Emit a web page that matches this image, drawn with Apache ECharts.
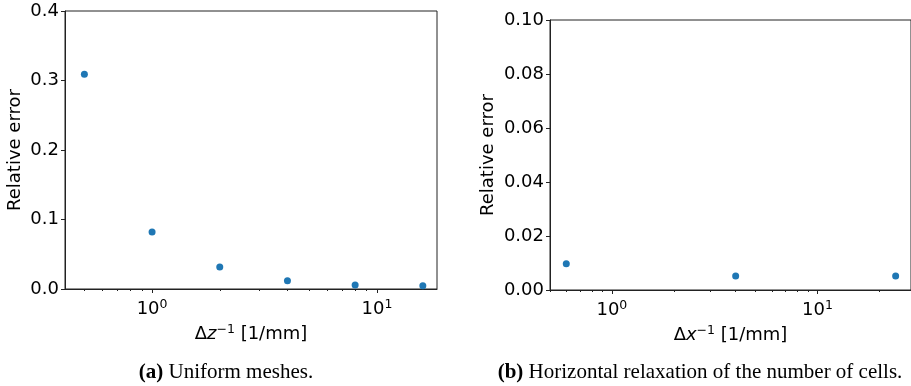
<!DOCTYPE html>
<html><head><meta charset="utf-8">
<script src="https://cdn.jsdelivr.net/npm/echarts@6/dist/echarts.min.js"></script>
<style>html,body{margin:0;padding:0;background:#fff}#c{width:911px;height:386px}</style>
</head><body><div id="c"></div>
<script>
// Panel (a): uniform meshes
const aX = [0.5, 1, 2, 4, 8, 16];
const aY = [0.309, 0.082, 0.0317, 0.012, 0.0058, 0.0045];
const aYTicks = [0, 0.1, 0.2, 0.3, 0.4];
// Panel (b): horizontal relaxation
const bX = [0.6, 4, 24];
const bY = [0.0097, 0.0052, 0.0052];
const bYTicks = [0, 0.02, 0.04, 0.06, 0.08, 0.1];
const majorX = [1, 10];
const minorX = [0.2,0.3,0.4,0.5,0.6,0.7,0.8,0.9,2,3,4,5,6,7,8,9,20,30,40,50,60,70,80,90];
const captionA = 'Uniform meshes.';
const captionB = 'Horizontal relaxation of the number of cells.';

const F = 'DejaVu Sans';
const FS = 18;
const axisColor = '#222';

function supLabel(v){ const e = Math.round(Math.log10(v)); return '{b|10}{s|' + e + '}'; }
const richTick = {b:{fontFamily:F,fontSize:FS,color:'#000'}, s:{fontFamily:F,fontSize:12.5,color:'#000',padding:[0,0,9,0]}};

function xAxes(gi, min, max, nameRich){
  return [
    {type:'log', gridIndex:gi, position:'bottom', min:min, max:max, logBase:10,
     axisLine:{show:true,lineStyle:{color:axisColor,width:1}},
     axisTick:{show:true,customValues:majorX,length:4,lineStyle:{color:axisColor}},
     axisLabel:{customValues:majorX,formatter:supLabel,rich:richTick,margin:9},
     splitLine:{show:false}, minorTick:{show:false},
     name:nameRich, nameLocation:'middle', nameGap:34,
     nameTextStyle:{fontFamily:F,fontSize:FS,color:'#000',rich:{
        t:{fontFamily:F,fontSize:FS,color:'#000'},
        i:{fontFamily:F,fontSize:FS,fontStyle:'italic',color:'#000'},
        s:{fontFamily:F,fontSize:12.5,color:'#000',padding:[0,0,9,0]}}}},
    {type:'log', gridIndex:gi, position:'bottom', min:min, max:max, logBase:10,
     axisLine:{show:false},
     axisTick:{show:true,customValues:minorX,length:2,lineStyle:{color:axisColor}},
     axisLabel:{show:false}, splitLine:{show:false}}
  ];
}
function yAxis(gi, ticks, dec, gap){
  return {type:'value', gridIndex:gi, min:ticks[0], max:ticks[ticks.length-1], interval:ticks[1]-ticks[0],
    axisLine:{show:true,lineStyle:{color:axisColor,width:1}},
    axisTick:{show:true,length:4,lineStyle:{color:axisColor}},
    axisLabel:{fontFamily:F,fontSize:FS,color:'#000',margin:6,formatter:v=>v.toFixed(dec)},
    splitLine:{show:false},
    name:'Relative error', nameLocation:'middle', nameRotate:90, nameGap:gap,
    nameTextStyle:{fontFamily:F,fontSize:FS,color:'#000'}};
}
const capRich = {b:{fontFamily:'Liberation Serif',fontSize:21,fontWeight:'bold',color:'#000'},
                 t:{fontFamily:'Liberation Serif',fontSize:21,fontWeight:'normal',color:'#000'}};

const option = {
  animation:false,
  grid:[
    {left:65, top:11, width:372, height:278, show:true, borderColor:axisColor, borderWidth:1, backgroundColor:'transparent'},
    {left:550, top:20, width:362, height:270, show:true, borderColor:axisColor, borderWidth:1, backgroundColor:'transparent'}
  ],
  xAxis: [].concat(xAxes(0,0.41,18.5,'Δ{i|z}{s|−1}{t| [1/mm]}'), xAxes(1,0.5,28.5,'Δ{i|x}{s|−1}{t| [1/mm]}')),
  yAxis: [yAxis(0,aYTicks,1,41), yAxis(1,bYTicks,2,53)],
  title:[
    {text:'{b|(a)}{t| ' + captionA + '}', left:226, top:362, textAlign:'center', textStyle:{fontWeight:'normal',rich:capRich}, padding:0},
    {text:'{b|(b)}{t| ' + captionB + '}', left:700, top:362, textAlign:'center', textStyle:{fontWeight:'normal',rich:capRich}, padding:0}
  ],
  series:[
    {type:'scatter', xAxisIndex:0, yAxisIndex:0, data:aX.map((x,i)=>[x,aY[i]]), symbolSize:7, itemStyle:{color:'#1f77b4',opacity:1}},
    {type:'scatter', xAxisIndex:2, yAxisIndex:1, data:bX.map((x,i)=>[x,bY[i]]), symbolSize:7, itemStyle:{color:'#1f77b4',opacity:1}}
  ]
};
const chart = echarts.init(document.getElementById('c'), null, {renderer:'canvas'});
chart.setOption(option);
</script></body></html>
